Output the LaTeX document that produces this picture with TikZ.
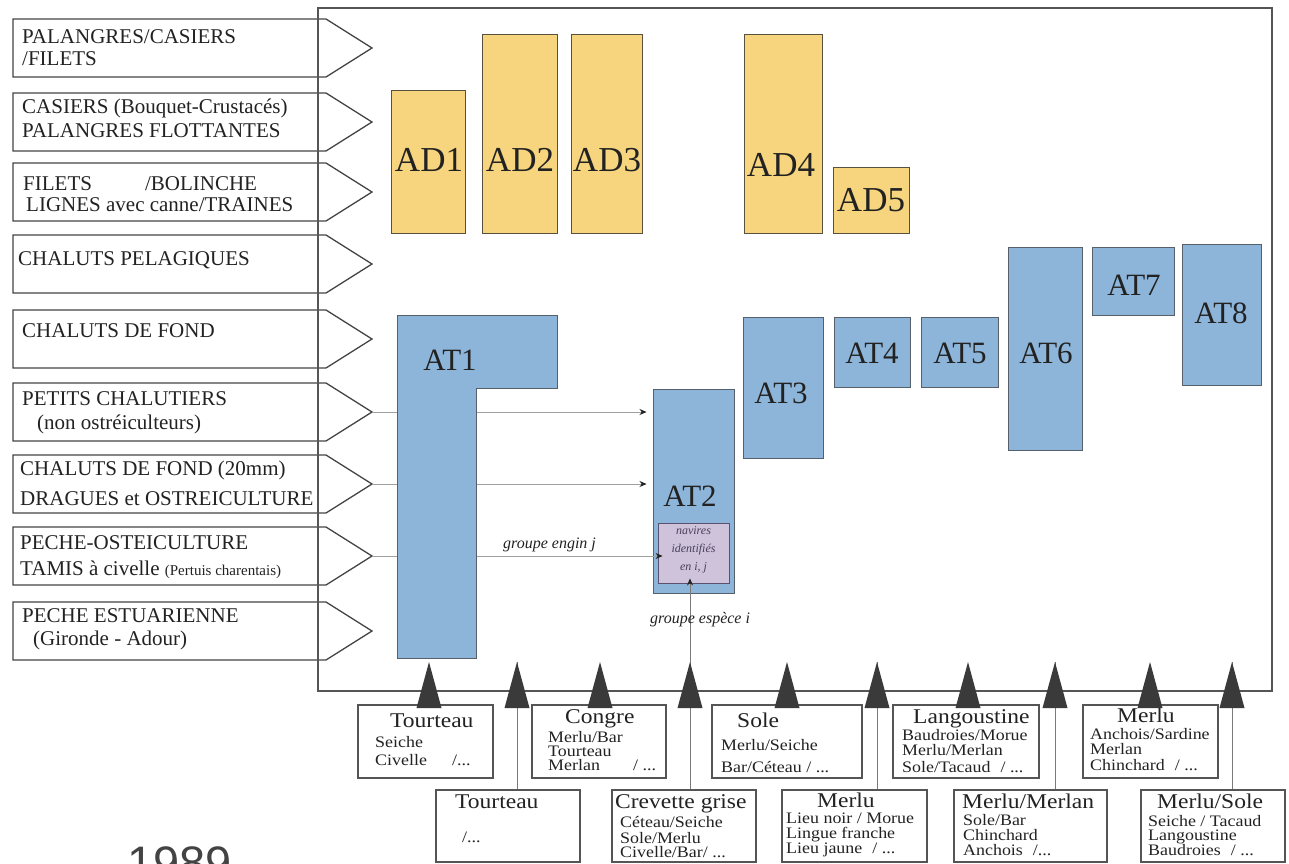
\documentclass[tikz,border=0pt]{standalone}
\usepackage{fontspec}
\setmainfont{Liberation Serif}
\newfontfamily\spfont[FakeStretch=1.12]{Liberation Serif}
\newfontfamily\yrfont{Liberation Sans}
\usetikzlibrary{arrows.meta}
\definecolor{adyellow}{HTML}{F6D57E}
\definecolor{atblue}{HTML}{8DB5DA}
\definecolor{lilac}{HTML}{CFC3DC}
\definecolor{ink}{HTML}{222222}
\definecolor{edgec}{HTML}{444444}
\definecolor{framec}{HTML}{555555}
\definecolor{adedge}{HTML}{5A5040}
\definecolor{atedge}{HTML}{55606A}
\definecolor{navedge}{HTML}{5A5070}
\definecolor{spedge}{HTML}{555555}
\definecolor{connc}{HTML}{A0A0A0}
\definecolor{vlinec}{HTML}{7A7A7A}
\definecolor{tric}{HTML}{3A3A3A}
\tikzset{
  pent/.style={draw=edgec, line width=1.3pt, line join=miter},
  mainframe/.style={draw=framec, line width=1.2pt},
  gear/.style={anchor=base west, inner sep=0pt, text=ink, font=\fontsize{21}{24}\selectfont},
  adbox/.style={draw=adedge, fill=adyellow, line width=1pt, inner sep=0pt},
  atbox/.style={draw=atedge, fill=atblue, line width=1pt, inner sep=0pt},
  atlab/.style={inner sep=0pt, text=ink, font=\fontsize{31}{34}\selectfont},
  adlab/.style={inner sep=0pt, text=ink, font=\fontsize{35}{38}\selectfont},
  navbox/.style={draw=navedge, fill=lilac, line width=0.9pt, inner sep=0pt},
  spbox/.style={draw=spedge, fill=white, line width=1.1pt, inner sep=0pt},
  sph/.style={anchor=base west, inner sep=0pt, text=ink, font=\spfont\fontsize{21}{24}\selectfont},
  sps/.style={anchor=base west, inner sep=0pt, text=ink, font=\spfont\fontsize{16}{18}\selectfont},
  conn/.style={draw=connc, line width=0.7pt, -{Stealth[length=7pt,width=6pt,color=ink]}},
  vline/.style={draw=vlinec, line width=0.9pt},
  tri/.style={fill=tric, draw=none},
  note/.style={anchor=base west, inner sep=0pt, text=ink, font=\itshape\fontsize{16}{18}\selectfont},
}
\begin{document}
\begin{tikzpicture}[x=1pt,y=-1pt]
\path[use as bounding box] (0,0) rectangle (1289,863);
\clip (0,0) rectangle (1289,863);

% gear pentagons
\foreach \t/\n in {19/1,93/2,163/3,235/4,310/5,383/6,455/7,527/8,602/9} {
  \draw[pent] (13,\t) -- (326,\t) -- (372,\t+29) -- (326,\t+58) -- (13,\t+58) -- cycle;
  \coordinate (tip\n) at (372,\t+29);
}
\node[gear] (g1a) at (22,43) {PALANGRES/CASIERS};
\node[gear] (g1b) at (22,65) {/FILETS};
\node[gear] (g2a) at (22,113) {CASIERS (Bouquet-Crustacés)};
\node[gear] (g2b) at (22,137) {PALANGRES FLOTTANTES};
\node[gear] (g3a) at (23,190) {FILETS\hspace{53pt}/BOLINCHE};
\node[gear] (g3b) at (26,211) {LIGNES avec canne/TRAINES};
\node[gear] (g4a) at (18,265) {CHALUTS PELAGIQUES};
\node[gear] (g5a) at (22,337) {CHALUTS DE FOND};
\node[gear] (g6a) at (22,405) {PETITS CHALUTIERS};
\node[gear] (g6b) at (37,429) {(non ostréiculteurs)};
\node[gear] (g7a) at (20,475) {CHALUTS DE FOND (20mm)};
\node[gear] (g7b) at (20,505) {DRAGUES et OSTREICULTURE};
\node[gear] (g8a) at (20,549) {PECHE-OSTEICULTURE};
\node[gear] (g8b) at (20,575) {TAMIS à civelle {\fontsize{15}{17}\selectfont(Pertuis charentais)}};
\node[gear] (g9a) at (22,622) {PECHE ESTUARIENNE};
\node[gear] (g9b) at (33,645) {(Gironde - Adour)};

% main frame
\draw[mainframe] (318,8) rectangle (1272,691);

% AD boxes
\node[adbox, minimum width=74pt, minimum height=143pt] (ad1) at (428,161.5) {};
\node[adbox, minimum width=75pt, minimum height=199pt] (ad2) at (519.5,133.5) {};
\node[adbox, minimum width=71pt, minimum height=199pt] (ad3) at (606.5,133.5) {};
\node[adbox, minimum width=78pt, minimum height=199pt] (ad4) at (783,133.5) {};
\node[adbox, minimum width=76pt, minimum height=66pt] (ad5) at (871,200) {};
\node[adlab] (ad1t) at (429,160) {AD1};
\node[adlab] (ad2t) at (520,160) {AD2};
\node[adlab] (ad3t) at (607,160) {AD3};
\node[adlab] (ad4t) at (781,165) {AD4};
\node[adlab] (ad5t) at (871,200) {AD5};

% AT boxes
\node[atbox, minimum width=81pt, minimum height=204pt] (at2) at (693.5,491) {};
\node[navbox, minimum width=71pt, minimum height=60pt] (nav) at (693.5,553) {};
\node[atbox, minimum width=80pt, minimum height=141pt] (at3) at (783,387.5) {};
\node[atbox, minimum width=76pt, minimum height=70pt] (at4) at (872,352) {};
\node[atbox, minimum width=77pt, minimum height=70pt] (at5) at (960,352.5) {};
\node[atbox, minimum width=74pt, minimum height=203pt] (at6) at (1045.5,348.5) {};
\node[atbox, minimum width=82pt, minimum height=68pt] (at7) at (1133,281) {};
\node[atbox, minimum width=79pt, minimum height=141pt] (at8) at (1221.5,314.5) {};
\node[atlab] (at2t) at (690,496) {AT2};
\node[atlab] (at3t) at (781,393) {AT3};
\node[atlab] (at4t) at (872,353) {AT4};
\node[atlab] (at5t) at (960,353) {AT5};
\node[atlab] (at6t) at (1046,353) {AT6};
\node[atlab] (at7t) at (1134,285) {AT7};
\node[atlab] (at8t) at (1221,313) {AT8};
\node[inner sep=0pt, align=center, text=navedge!80!black, font=\itshape\fontsize{12}{18}\selectfont] (navt) at (693.5,550) {navires\\identifiés\\en i, j};

% arrows from gear groups
\draw[conn, shorten >=6pt] (tip6) -- (tip6 -| at2.west);
\draw[conn, shorten >=6pt] (tip7) -- (tip7 -| at2.west);
\draw[conn, shorten >=-5pt] (tip8) -- (tip8 -| nav.west);

% AT1 (L-shaped)
\draw[atbox] (397,315) -- (557,315) -- (557,388) -- (476,388) -- (476,658) -- (397,658) -- cycle;
\node[atlab] (at1t) at (450,360) {AT1};

% species boxes
\node[spbox, minimum width=135pt, minimum height=73pt] (u1) at (425.5,741.5) {};
\node[spbox, minimum width=134pt, minimum height=73pt] (u2) at (599,741.5) {};
\node[spbox, minimum width=150pt, minimum height=73pt] (u3) at (787,741.5) {};
\node[spbox, minimum width=146pt, minimum height=73pt] (u4) at (966,741.5) {};
\node[spbox, minimum width=135pt, minimum height=73pt] (u5) at (1150.5,741.5) {};
\node[spbox, minimum width=144pt, minimum height=72pt] (l1) at (508,826) {};
\node[spbox, minimum width=144pt, minimum height=72pt] (l2) at (684,826) {};
\node[spbox, minimum width=145pt, minimum height=72pt] (l3) at (854.5,826) {};
\node[spbox, minimum width=153pt, minimum height=72pt] (l4) at (1030.5,826) {};
\node[spbox, minimum width=144pt, minimum height=72pt] (l5) at (1213,826) {};

\node[sph] (u1a) at (390,727) {Tourteau};
\node[sps] (u1b) at (375,747) {Seiche};
\node[sps] (u1c) at (375,765) {Civelle};
\node[sps] (u1d) at (452,765) {/...};

\node[sph] (u2a) at (565,723) {Congre};
\node[sps] (u2b) at (548,742) {Merlu/Bar};
\node[sps] (u2c) at (548,756) {Tourteau};
\node[sps] (u2d) at (548,770) {Merlan};
\node[sps] (u2e) at (633,770) {/ ...};

\node[sph] (u3a) at (737,727) {Sole};
\node[sps] (u3b) at (721,750) {Merlu/Seiche};
\node[sps] (u3c) at (721,772) {Bar/Céteau / ...};

\node[sph] (u4a) at (913,723) {Langoustine};
\node[sps] (u4b) at (902,740) {Baudroies/Morue};
\node[sps] (u4c) at (902,755) {Merlu/Merlan};
\node[sps] (u4d) at (902,772) {Sole/Tacaud\hspace{10pt}/ ...};

\node[sph] (u5a) at (1117,722) {Merlu};
\node[sps] (u5b) at (1090,739) {Anchois/Sardine};
\node[sps] (u5c) at (1090,754) {Merlan};
\node[sps] (u5d) at (1090,770) {Chinchard\hspace{10pt}/ ...};

\node[sph] (l1a) at (455,808) {Tourteau};
\node[sps] (l1b) at (462,842) {/...};

\node[sph] (l2a) at (615,808) {Crevette grise};
\node[sps] (l2b) at (620,827) {Céteau/Seiche};
\node[sps] (l2c) at (620,843) {Sole/Merlu};
\node[sps] (l2d) at (620,857) {Civelle/Bar/ ...};

\node[sph] (l3a) at (817,807) {Merlu};
\node[sps] (l3b) at (786,823) {Lieu noir / Morue};
\node[sps] (l3c) at (786,838) {Lingue franche};
\node[sps] (l3d) at (786,853) {Lieu jaune\hspace{10pt}/ ...};

\node[sph] (l4a) at (962,808) {Merlu/Merlan};
\node[sps] (l4b) at (963,825) {Sole/Bar};
\node[sps] (l4c) at (963,840) {Chinchard};
\node[sps] (l4d) at (963,855) {Anchois\hspace{10pt}/...};

\node[sph] (l5a) at (1157,808) {Merlu/Sole};
\node[sps] (l5b) at (1148,826) {Seiche / Tacaud};
\node[sps] (l5c) at (1148,840) {Langoustine};
\node[sps] (l5d) at (1148,855) {Baudroies\hspace{10pt}/ ...};

% triangle apexes
\foreach \x/\n in {429/1,517/2,600/3,690/4,787/5,877/6,968/7,1055/8,1150/9,1232/10} {
  \coordinate (t\n) at (\x,662);
}
% vertical connectors from lower boxes
\draw[vline] (l1.north -| t2) -- (t2);
\draw[vline] (l3.north -| t6) -- (t6);
\draw[vline] (l4.north -| t8) -- (t8);
\draw[vline] (l5.north -| t10) -- (t10);
\draw[vline, -{Stealth[length=7pt,width=6pt,color=ink]}, shorten >=-5pt] (l2.north -| t4) -- (t4 |- nav.south);

% triangles
\foreach \x in {429,517,600,690,787,877,968,1055,1150,1232} {
  \fill[tri] (\x,662) -- (\x+12.5,708) -- (\x-12.5,708) -- cycle;
}

% notes
\node[note] (ngear) at (503,548) {groupe engin j};
\node[note] (nsp) at (650,623) {groupe espèce i};

% year
\node[anchor=base west, inner sep=0pt, text=ink!85, font=\yrfont\fontsize{47}{50}\selectfont] (yr) at (127,879) {1989};
\end{tikzpicture}
\end{document}
